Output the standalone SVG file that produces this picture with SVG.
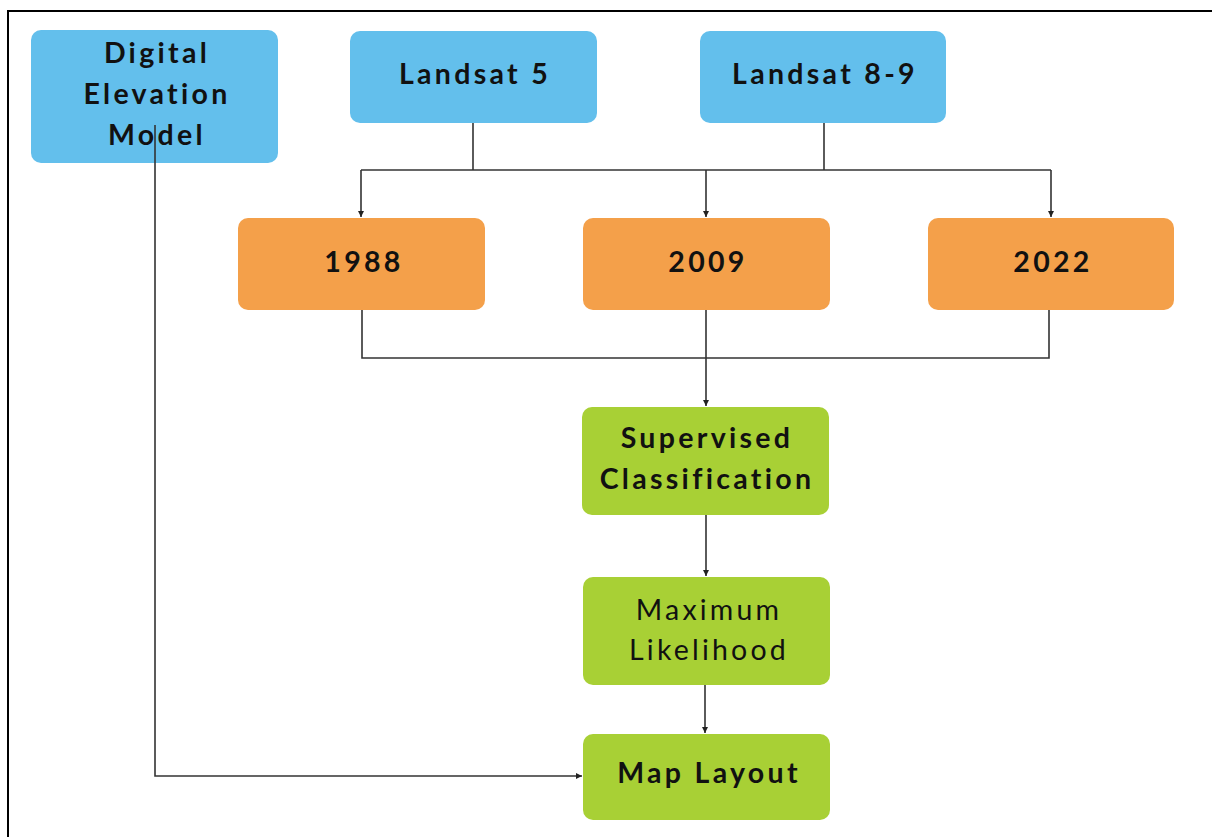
<svg xmlns="http://www.w3.org/2000/svg" width="1212" height="837" viewBox="0 0 1212 837">
<style>
.blue{fill:#63BFEC}
.orange{fill:#F4A04A}
.green{fill:#A8D035}
text{font-family:Lato,"Liberation Sans",sans-serif;font-size:28.5px;font-weight:bold;fill:#111;text-anchor:middle;letter-spacing:3.3px}
text.reg{font-weight:normal;letter-spacing:3.2px}
.c{fill:none;stroke:#333;stroke-width:1.6}
</style>
<defs>
<marker id="ah" markerWidth="8" markerHeight="8" refX="6" refY="4" orient="auto" markerUnits="userSpaceOnUse">
<path d="M0,1 L6,4 L0,7 Z" fill="#222"/>
</marker>
</defs>
<rect width="1212" height="837" fill="#fff"/>
<path d="M8,837 V11 H1212" fill="none" stroke="#000" stroke-width="2"/>
<g id="nodes">
<g id="dem"><rect class="blue" x="31" y="30" width="247" height="133" rx="10"/>
<text x="157" y="63">Digital</text><text x="157" y="104">Elevation</text><text x="157" y="145">Model</text></g>
<g id="landsat5"><rect class="blue" x="350" y="31" width="247" height="92" rx="10"/><text x="475" y="84">Landsat 5</text></g>
<g id="landsat89"><rect class="blue" x="700" y="31" width="246" height="92" rx="10"/><text x="825" y="84">Landsat 8-9</text></g>
<g id="y1988"><rect class="orange" x="238" y="218" width="247" height="92" rx="10"/><text x="364" y="272">1988</text></g>
<g id="y2009"><rect class="orange" x="583" y="218" width="247" height="92" rx="10"/><text x="708" y="272">2009</text></g>
<g id="y2022"><rect class="orange" x="928" y="218" width="246" height="92" rx="10"/><text x="1053" y="272">2022</text></g>
<g id="supervised"><rect class="green" x="582" y="407" width="247" height="108" rx="10"/><text x="707" y="448">Supervised</text><text x="707" y="489">Classification</text></g>
<g id="maxlike"><rect class="green" x="583" y="577" width="247" height="108" rx="10"/><text class="reg" x="709" y="620">Maximum</text><text class="reg" x="709" y="660">Likelihood</text></g>
<g id="maplayout"><rect class="green" x="583" y="734" width="247" height="86" rx="10"/><text x="709" y="783">Map Layout</text></g>
</g>
<g id="connectors">
<path class="c" d="M473,123 V170"/>
<path class="c" d="M824,123 V170"/>
<path class="c" d="M361,170 H1051"/>
<path class="c" d="M361,170 V217" marker-end="url(#ah)"/>
<path class="c" d="M706,170 V217" marker-end="url(#ah)"/>
<path class="c" d="M1051,170 V217" marker-end="url(#ah)"/>
<path class="c" d="M362,310 V358 H1049 V310"/>
<path class="c" d="M706,310 V406" marker-end="url(#ah)"/>
<path class="c" d="M706,515 V576" marker-end="url(#ah)"/>
<path class="c" d="M705,685 V733" marker-end="url(#ah)"/>
<path class="c" d="M155,125 V776 H582" marker-end="url(#ah)"/>
</g>
</svg>
